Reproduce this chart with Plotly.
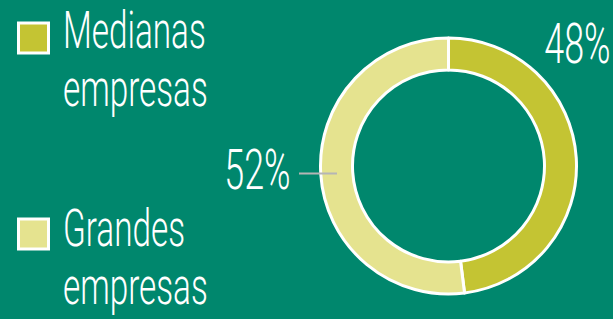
import plotly.graph_objects as go

# ---- data ----
labels = ["Medianas empresas", "Grandes empresas"]
values = [48, 52]
colors = ["#C4C433", "#E5E38F"]

BG = "#00876D"
W, H = 613, 319
FONT = "Roboto, Liberation Sans, sans-serif"
LEG_SIZE = 52
PCT_SIZE = 56


def px(x):
    return x / W


def py(y):
    return 1 - y / H


fig = go.Figure(
    go.Pie(
        labels=labels,
        values=values,
        hole=0.75,
        sort=False,
        direction="clockwise",
        rotation=0,
        marker=dict(colors=colors, line=dict(color="white", width=3)),
        textinfo="none",
        hoverinfo="label+percent",
        showlegend=False,
        domain=dict(x=[px(320.5), px(576.5)], y=[py(294), py(38)]),
    )
)

shapes = []
annotations = []

# manual legend (square + two-line label)
legend_centers = [38, 234]
legend_baselines = [[48, 106], [246, 304]]
for lab, col, cy, bls in zip(labels, colors, legend_centers, legend_baselines):
    shapes.append(dict(type="rect", xref="paper", yref="paper",
                       x0=px(18.5), x1=px(48.5), y0=py(cy - 15), y1=py(cy + 15),
                       fillcolor=col, line=dict(color="white", width=3)))
    for word, bl in zip(lab.split(" "), bls):
        annotations.append(dict(xref="paper", yref="paper", x=px(61),
                                y=py(bl - 0.34 * LEG_SIZE),
                                xanchor="left", yanchor="middle", align="left",
                                text=word, showarrow=False,
                                font=dict(family=FONT, size=LEG_SIZE, color="white",
                                          weight=300)))

# percentage labels
total = sum(values)
pcts = [f"{round(v / total * 100)}%" for v in values]
pct_pos = [(613, 63), (293, 189)]
for txt, (x, bl) in zip(pcts, pct_pos):
    annotations.append(dict(xref="paper", yref="paper", x=px(x),
                            y=py(bl - 0.34 * PCT_SIZE),
                            xanchor="right", yanchor="middle", align="right",
                            text=txt, showarrow=False,
                            font=dict(family=FONT, size=PCT_SIZE, color="white",
                                      weight=300)))
shapes.append(dict(type="line", xref="paper", yref="paper",
                   x0=px(299), x1=px(337), y0=py(173.5), y1=py(173.5),
                   line=dict(color="#B5B5B5", width=2)))

fig.update_layout(
    width=W, height=H,
    margin=dict(l=0, r=0, t=0, b=0),
    paper_bgcolor=BG, plot_bgcolor=BG,
    shapes=shapes, annotations=annotations,
)

post = """
document.body.style.margin = '0';
document.body.style.background = '%s';
var gd = document.getElementById('{plot_id}');
function condense() {
  gd.querySelectorAll('text.annotation-text').forEach(function (t) {
    var a = t.getAttribute('text-anchor');
    t.style.transformBox = 'fill-box';
    t.style.transformOrigin = a === 'end' ? 'right center' : (a === 'middle' ? 'center' : 'left center');
    t.style.transform = 'scaleX(0.64)';
  });
}
condense();
if (gd.on) { gd.on('plotly_afterplot', condense); }
setTimeout(condense, 0);
""" % BG

fig.write_html("out.html", post_script=post, config={"displayModeBar": False})
